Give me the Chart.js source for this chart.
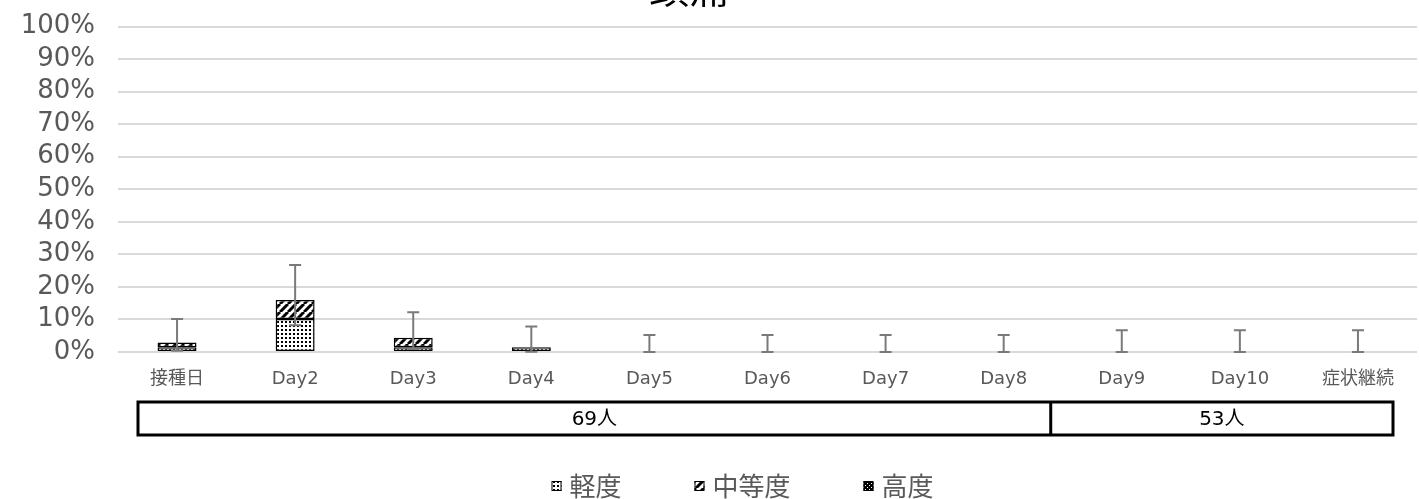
<!DOCTYPE html>
<html>
<head>
<meta charset="utf-8">
<script src="https://cdn.jsdelivr.net/npm/chart.js@4/dist/chart.umd.min.js"></script>
<style>
  body { margin: 0; background: #fff; }
  #wrap { width: 1419px; height: 499px; position: relative; }
</style>
</head>
<body>
<div id="wrap"><canvas id="chart"></canvas></div>
<script>
const title = "頭痛";
const categories = ["接種日", "Day2", "Day3", "Day4", "Day5", "Day6", "Day7", "Day8", "Day9", "Day10", "症状継続"];
const seriesNames = ["軽度", "中等度", "高度"];
const mild = [1.45, 10.14, 1.45, 1.45, 0, 0, 0, 0, 0, 0, 0];
const moderate = [1.45, 5.8, 2.9, 0, 0, 0, 0, 0, 0, 0, 0];
const severe = [0, 0, 0, 0, 0, 0, 0, 0, 0, 0, 0];
// confidence interval of the total, read from the whiskers
const errHigh = [10.1, 26.7, 12.2, 7.8, 5.2, 5.2, 5.2, 5.2, 6.7, 6.7, 6.7];
const errLow = [0.35, 8.2, 0.9, 0.04, 0, 0, 0, 0, 0, 0, 0];
const groupLabels = ["69人", "53人"];
const groupSpans = [8, 3];
const yTicks = [0, 10, 20, 30, 40, 50, 60, 70, 80, 90, 100];

const FONT = '"DejaVu Sans", "Noto Sans CJK JP", sans-serif';
const JFONT = '"Noto Sans CJK JP", sans-serif';
const GRAY = "#595959";

function makePattern(size, draw) {
  const c = document.createElement("canvas");
  c.width = size;
  c.height = size;
  const g = c.getContext("2d");
  draw(g, size);
  return document.createElement("canvas").getContext("2d").createPattern(c, "repeat");
}

const dots = makePattern(4, (g) => {
  g.fillStyle = "#fff";
  g.fillRect(0, 0, 4, 4);
  g.fillStyle = "#000";
  g.fillRect(1, 1, 2, 2);
});
const stripes = makePattern(8, (g, s) => {
  g.fillStyle = "#fff";
  g.fillRect(0, 0, s, s);
  g.strokeStyle = "#000";
  g.lineWidth = 3;
  g.beginPath();
  for (let k = -1; k <= 1; k++) {
    g.moveTo(k * s, s);
    g.lineTo(k * s + s, 0);
  }
  g.stroke();
});
const checks = makePattern(4, (g) => {
  g.fillStyle = "#000";
  g.fillRect(0, 0, 4, 4);
  g.fillStyle = "#fff";
  g.fillRect(1, 1, 1, 1);
  g.fillRect(3, 3, 1, 1);
});
const patterns = [dots, stripes, checks];

const extras = {
  id: "extras",
  afterDatasetsDraw(chart) {
    const { ctx } = chart;
    const x = chart.scales.x;
    const y = chart.scales.y;

    // error bars
    ctx.save();
    ctx.strokeStyle = "#7a7a7a";
    ctx.lineWidth = 2;
    categories.forEach((c, i) => {
      const px = x.getPixelForValue(i);
      const top = y.getPixelForValue(errHigh[i]);
      const bot = y.getPixelForValue(errLow[i]);
      ctx.beginPath();
      ctx.moveTo(px, top);
      ctx.lineTo(px, bot);
      ctx.moveTo(px - 6, top);
      ctx.lineTo(px + 6, top);
      ctx.moveTo(px - 6, bot);
      ctx.lineTo(px + 6, bot);
      ctx.stroke();
    });
    ctx.restore();
  },
  afterDraw(chart) {
    const { ctx, chartArea, width } = chart;

    // title (mostly above the visible area)
    ctx.save();
    ctx.fillStyle = "#000";
    ctx.font = "40px " + JFONT;
    ctx.textAlign = "center";
    ctx.textBaseline = "ideographic";
    ctx.fillText(title, 689, 8);
    ctx.restore();

    // people count table under the axis
    const left = chartArea.left + 20;
    const right = chartArea.right - 24;
    const top = chartArea.bottom + 50;
    const h = 33;
    const total = groupSpans.reduce((a, b) => a + b, 0);
    ctx.save();
    ctx.strokeStyle = "#000";
    ctx.lineWidth = 3;
    ctx.strokeRect(left, top, right - left, h);
    ctx.font = "20px " + FONT;
    ctx.fillStyle = "#000";
    ctx.textAlign = "center";
    ctx.textBaseline = "middle";
    let acc = 0;
    groupSpans.forEach((span, i) => {
      const x0 = left + (right - left) * acc / total;
      acc += span;
      const x1 = left + (right - left) * acc / total;
      if (i > 0) {
        ctx.beginPath();
        ctx.moveTo(x0, top);
        ctx.lineTo(x0, top + h);
        ctx.stroke();
      }
      ctx.fillText(groupLabels[i], (x0 + x1) / 2, top + h / 2 + 1);
    });
    ctx.restore();

    // legend
    ctx.save();
    ctx.font = "26px " + JFONT;
    ctx.textBaseline = "middle";
    const box = 10, gapText = 8, gapItem = 73;
    const widths = seriesNames.map((n) => box + gapText + ctx.measureText(n).width);
    const full = widths.reduce((a, b) => a + b, 0) + gapItem * (seriesNames.length - 1);
    let lx = width / 2 + 33 - full / 2;
    const ly = 486;
    seriesNames.forEach((n, i) => {
      ctx.fillStyle = patterns[i];
      ctx.fillRect(lx, ly - box / 2, box, box);
      ctx.strokeStyle = "#000";
      ctx.lineWidth = 1;
      ctx.strokeRect(lx + 0.5, ly - box / 2 + 0.5, box - 1, box - 1);
      ctx.fillStyle = GRAY;
      ctx.fillText(n, lx + box + gapText, ly);
      lx += widths[i] + gapItem;
    });
    ctx.restore();
  }
};

const values = [mild, moderate, severe];
new Chart(document.getElementById("chart"), {
  type: "bar",
  data: {
    labels: categories,
    datasets: seriesNames.map((name, i) => ({
      label: name,
      data: values[i],
      backgroundColor: patterns[i],
      borderColor: "#000",
      borderWidth: (c) => (c.raw ? 1.5 : 0),
      borderSkipped: false,
      categoryPercentage: 1,
      barPercentage: 0.33
    }))
  },
  options: {
    responsive: true,
    maintainAspectRatio: false,
    animation: false,
    layout: { padding: { top: 26.5, right: 2, left: 0, bottom: 0 } },
    plugins: {
      legend: { display: false },
      title: { display: false },
      tooltip: { enabled: false }
    },
    scales: {
      x: {
        stacked: true,
        grid: { display: false, drawTicks: false },
        border: { display: false },
        ticks: {
          color: GRAY,
          font: { family: FONT, size: 18 },
          padding: 17,
          maxRotation: 0,
          autoSkip: false
        },
        afterFit(scale) {
          scale.height = 147;
          scale.paddingLeft = 0;
          scale.paddingRight = 0;
        }
      },
      y: {
        stacked: true,
        min: 0,
        max: 100,
        afterBuildTicks(scale) { scale.ticks = yTicks.map((v) => ({ value: v })); },
        grid: { color: "#d9d9d9", lineWidth: 2, drawTicks: false },
        border: { display: false },
        ticks: {
          color: GRAY,
          font: { family: FONT, size: 26 },
          padding: 23,
          autoSkip: false,
          callback: (v) => v + "%"
        },
        afterFit(scale) {
          scale.width = 118;
          scale.paddingTop = 0;
          scale.paddingBottom = 0;
        }
      }
    }
  },
  plugins: [extras]
});
</script>
</body>
</html>
